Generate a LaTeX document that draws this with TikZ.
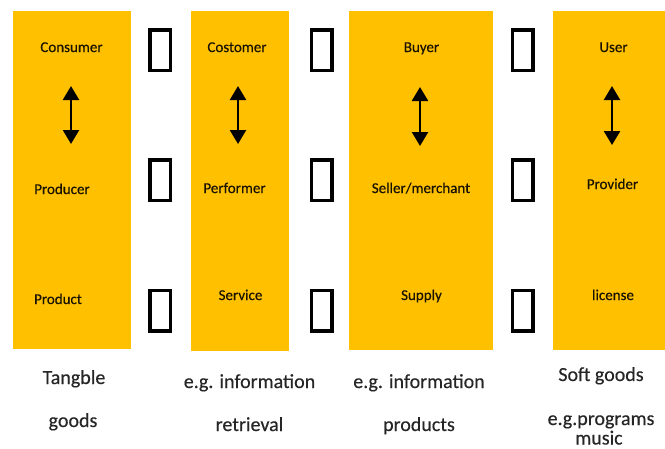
\documentclass[tikz,border=0pt]{standalone}
\usepackage{fontspec}
\setmainfont{Carlito}
\newfontfamily\lblfont[FakeBold=0.35]{Carlito}
\usetikzlibrary{arrows.meta}
\definecolor{gold}{HTML}{FFC000}
\definecolor{ink}{HTML}{262626}
\tikzset{
  col/.style={fill=gold, draw=none},
  lbl/.style={font=\lblfont\fontsize{15}{18}\selectfont, text=black!90!gold, anchor=base, inner sep=0pt},
  captext/.style={font=\lblfont\fontsize{20}{24}\selectfont, text=ink, anchor=base, inner sep=0pt, align=center},
  sq/.style={draw=black, line width=3.5pt, fill=white, minimum width=20.5pt, minimum height=40.5pt, inner sep=0pt},
  dbl/.style={line width=2.5pt, {Triangle[width=16pt,length=14pt]}-{Triangle[width=16pt,length=14pt]}}
}
\begin{document}
\begin{tikzpicture}[x=1pt,y=-1pt]
\useasboundingbox (0,0) rectangle (665,448);
% columns
\path[col] (13,11) rectangle (131,349);
\path[col] (191,11) rectangle (289,351);
\path[col] (349,11) rectangle (493,350);
\path[col] (553,11) rectangle (665,350);
% placeholder boxes
\foreach \x/\n in {160/a,321.5/b,522.5/c}{
  \node[sq] (\n1) at (\x,50) {};
  \node[sq] (\n2) at (\x,180) {};
  \node[sq] (\n3) at (\x,310.5) {};
}
% labels column 1
\node[lbl] (c1) at (71.5,52) {Consumer};
\node[lbl] (p1) at (62,194) {Producer};
\node[lbl] (q1) at (58,304) {Product};
% column 2
\node[lbl] (c2) at (237,52) {Costomer};
\node[lbl] (p2) at (234.5,193) {Performer};
\node[lbl] (q2) at (240.5,300) {Service};
% column 3
\node[lbl] (c3) at (421.5,52) {Buyer};
\node[lbl] (p3) at (421,193) {Seller/merchant};
\node[lbl] (q3) at (421.5,300) {Supply};
% column 4
\node[lbl] (c4) at (613.5,52) {User};
\node[lbl] (p4) at (612.5,189) {Provider};
\node[lbl] (q4) at (613,300) {license};
% arrows
\coordinate (t1) at (71,86);  \coordinate (b1) at (71,144);
\coordinate (t2) at (238,86); \coordinate (b2) at (238,144);
\coordinate (t3) at (420,87); \coordinate (b3) at (420,146);
\coordinate (t4) at (612,86); \coordinate (b4) at (612,145);
\foreach \i in {1,2,3,4}{ \draw[dbl] (t\i) -- (b\i); }
% captions
\node[captext] (k1a) at (74,384) {Tangble};
\node[captext] (k1b) at (73,427) {goods};
\node[captext] (k2a) at (249.5,388) {e.g. information};
\node[captext] (k2b) at (249.5,431) {retrieval};
\node[captext] (k3a) at (419,388) {e.g. information};
\node[captext] (k3b) at (419,431) {products};
\node[captext] (k4a) at (601,381) {Soft goods};
\node[captext] (k4b) at (601,425) {e.g.programs};
\node[captext] (k4c) at (599,444.5) {music};
\end{tikzpicture}
\end{document}
